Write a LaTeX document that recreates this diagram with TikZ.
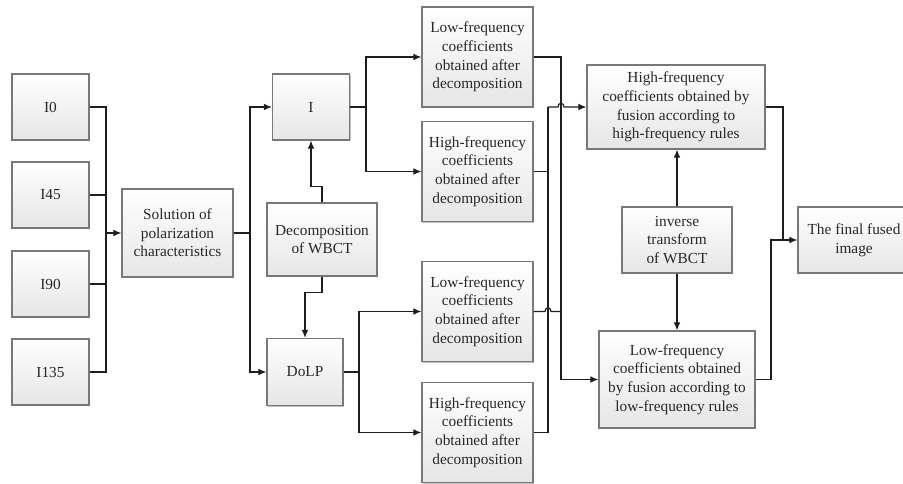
\documentclass[tikz,border=0pt]{standalone}
\usepackage{fontspec}
\setmainfont{Liberation Serif}
\usepackage{tikz}
\usetikzlibrary{arrows.meta, calc, shadows}
\usepackage{xcolor}
\definecolor{boxedge}{RGB}{120,120,120}
\definecolor{boxlow}{RGB}{230,230,230}
\definecolor{wire}{RGB}{30,30,30}
\definecolor{ink}{RGB}{40,40,40}

\begin{document}
\begin{tikzpicture}[x=0.75pt, y=-0.75pt,
  blk/.style={draw=boxedge, line width=0.9pt, top color=white, bottom color=boxlow,
    drop shadow={shadow xshift=1pt, shadow yshift=-1pt, opacity=0.25, fill=black},
    align=center, inner sep=1pt, text=ink, font=\fontsize{11.5}{14}\selectfont},
  coef/.style={blk, minimum width=83.25pt, minimum height=75pt},
  pol/.style={blk, minimum width=57.75pt, minimum height=49.5pt},
  wr/.style={draw=wire, line width=0.85pt},
  arr/.style={wr, -{Latex[length=6pt, width=5pt]}}]
  \useasboundingbox (0,0) rectangle (903,484);
  % Input images
  \node[pol] (i0)   at (50.5,107) {I0};
  \node[pol] (i45)  at (50.5,195) {I45};
  \node[pol] (i90)  at (50.5,284) {I90};
  \node[pol] (i135) at (50.5,372) {I135};
  \node[blk, minimum width=83.25pt, minimum height=66pt] (solve) at (177.5,233)
    {Solution of\\polarization\\characteristics};
  % Polarization images and WBCT
  \node[pol] (pI) at (311,107) {I};
  \node[blk, minimum width=82.5pt, minimum height=54.75pt] (decomp) at (322,239.5)
    {Decomposition\\of WBCT};
  \node[pol, minimum width=57pt, minimum height=50.25pt] (dolp) at (305,372) {DoLP};
  % Decomposed coefficients
  \node[coef] (lowA)  at (477.5,57)    {Low-frequency\\coefficients\\obtained after\\decomposition};
  \node[coef] (highA) at (477.5,171.5) {High-frequency\\coefficients\\obtained after\\decomposition};
  \node[coef] (lowB)  at (477.5,311.5) {Low-frequency\\coefficients\\obtained after\\decomposition};
  \node[coef] (highB) at (477.5,432.5) {High-frequency\\coefficients\\obtained after\\decomposition};
  % Fusion
  \node[blk, minimum width=133.5pt, minimum height=63pt] (highfus) at (676,107)
    {High-frequency\\coefficients obtained by\\fusion according to\\high-frequency rules};
  \node[blk, minimum width=82.5pt, minimum height=49.5pt] (inv) at (677,240)
    {inverse\\transform\\of WBCT};
  \node[blk, minimum width=117pt, minimum height=72.75pt] (lowfus) at (677,379.5)
    {Low-frequency\\coefficients obtained\\by fusion according to\\low-frequency rules};
  \node[blk, minimum width=84pt, minimum height=49.5pt] (final) at (854,240)
    {The final fused\\image};

  % Junctions
  \coordinate (busL) at (106,233);
  \coordinate (busR) at (250,233);
  \coordinate (splitI) at (366,107);
  \coordinate (splitD) at (359,372);
  \coordinate (jH) at (548,107);
  \coordinate (jL) at (561,379.5);

  % Inputs to solution
  \foreach \n in {i0,i45,i90,i135}
    \draw[wr] (\n.east) -| (busL);
  \draw[arr] (busL) -- (solve.west);
  \draw[wr] (solve.east) -- (busR);
  \draw[arr] (busR) |- (pI.west);
  \draw[arr] (busR) |- (dolp.west);
  % WBCT decomposition
  \draw[arr] (decomp.north) -- ++(0,-16) -| (pI.south);
  \draw[arr] (decomp.south) -- ++(0,16) -| (dolp.north);
  \draw[wr] (pI.east) -- (splitI);
  \draw[arr] (splitI) |- (lowA.west);
  \draw[arr] (splitI) |- (highA.west);
  \draw[wr] (dolp.east) -- (splitD);
  \draw[arr] (splitD) |- (lowB.west);
  \draw[arr] (splitD) |- (highB.west);
  % High-frequency branch (hop over x=561)
  \draw[wr] (highA.east) -| (jH);
  \draw[wr] (highB.east) -| (jH);
  \draw[arr] (jH) -- (558,107) .. controls (558,102) and (564,102) .. (564,107) -- (highfus.west);
  % Low-frequency branch (hop over x=548)
  \draw[arr] (lowA.east) -| (jL) -- (lowfus.west);
  \draw[wr] (lowB.east) -- (545,311.5) .. controls (545,306.5) and (551,306.5) .. (551,311.5) -- (jL |- lowB.east);
  % Inverse transform
  \draw[arr] (inv.north) -- (inv.north |- highfus.south);
  \draw[arr] (inv.south) -- (inv.south |- lowfus.north);
  % To final image
  \draw[wr] (highfus.east) -| (783,240);
  \draw[arr] (lowfus.east) -| (771,240) -- (final.west);
\end{tikzpicture}
\end{document}
